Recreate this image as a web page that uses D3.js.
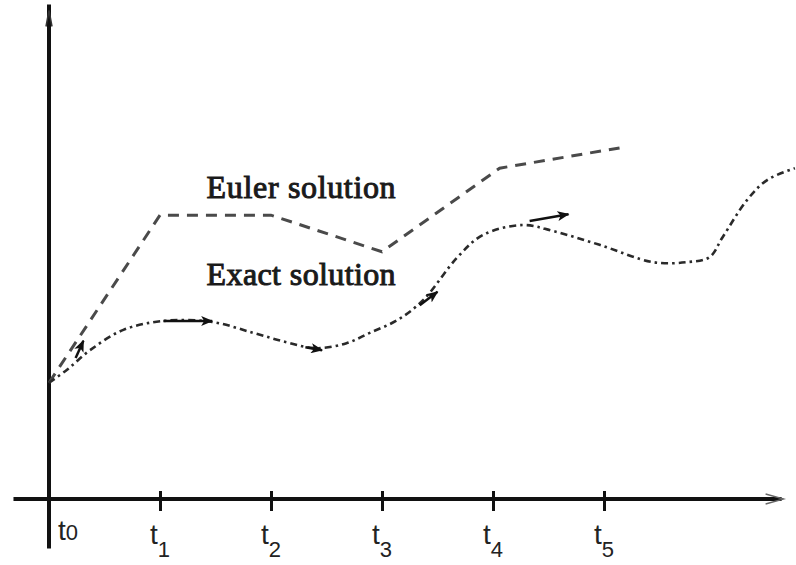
<!DOCTYPE html>
<html>
<head>
<meta charset="utf-8">
<script src="https://cdn.jsdelivr.net/npm/d3@7"></script>
<style>
  body { margin: 0; background: #fff; }
  svg { display: block; }
</style>
</head>
<body>
<div id="chart_div"></div>
<script>
// step index of each grid time t_i and its subscript
var tSteps = [0, 1, 2, 3, 4, 5];
var tLabels = ["0", "1", "2", "3", "4", "5"];

// Euler polygon (t in steps, y in arbitrary units)
var eulerT = [0, 1.0, 2.0, 3.0, 4.06, 5.14];
var eulerY = [2.35, 5.74, 5.74, 5.0, 6.69, 7.10];

// exact solution
var exactT = [0, 0.16, 0.37, 0.67, 1.03, 1.47, 1.84, 2.14, 2.41, 2.68, 2.89, 3.14, 3.37, 3.68, 3.91, 4.27, 4.54, 4.96, 5.44, 5.75, 5.95, 6.07, 6.29, 6.47, 6.72];
var exactY = [2.35, 2.61, 3.01, 3.42, 3.60, 3.58, 3.36, 3.17, 3.05, 3.15, 3.36, 3.62, 4.02, 4.89, 5.34, 5.54, 5.42, 5.14, 4.79, 4.79, 4.89, 5.30, 6.05, 6.45, 6.69];

// little slope arrows (start -> end)
var arrowT0 = [0.24, 1.03, 2.31, 3.34, 4.33];
var arrowY0 = [2.85, 3.60, 3.07, 3.92, 5.62];
var arrowT1 = [0.31, 1.47, 2.46, 3.50, 4.68];
var arrowY1 = [3.20, 3.60, 3.01, 4.19, 5.76];

var labels = ["Euler solution", "Exact solution"];
var labelT = [1.42, 1.42];
var labelY = [6.08, 4.32];

var width = 796, height = 565;

var x = d3.scaleLinear().domain([0, 5]).range([49, 604]);
var y = d3.scaleLinear().domain([0, 10]).range([499, 4.5]);

var svg = d3.select("#chart_div").append("svg")
    .attr("width", width)
    .attr("height", height);

var defs = svg.append("defs");
defs.append("marker")
    .attr("id", "head")
    .attr("viewBox", "0 0 12 10")
    .attr("refX", 11).attr("refY", 5)
    .attr("markerWidth", 12).attr("markerHeight", 10)
    .attr("markerUnits", "userSpaceOnUse")
    .attr("orient", "auto")
  .append("path")
    .attr("d", "M0,0 L12,5 L0,10 L3,5 Z")
    .attr("fill", "#111");

// axes
svg.append("line")
    .attr("x1", x(0)).attr("x2", x(0))
    .attr("y1", y(-1.0)).attr("y2", y(10))
    .attr("stroke", "#111").attr("stroke-width", 4);
svg.append("path")
    .attr("d", "M" + (x(0) - 3) + "," + (y(10) + 22) + " L" + x(0) + "," + (y(10) + 6) + " L" + (x(0) + 3) + "," + (y(10) + 22))
    .attr("fill", "none").attr("stroke", "#333").attr("stroke-width", 1.5);

var xAxis = d3.axisBottom(x)
    .tickValues(tSteps.slice(1))
    .tickSize(12)
    .tickFormat("");

var gx = svg.append("g")
    .attr("transform", "translate(0," + y(0) + ")")
    .call(xAxis);
gx.select(".domain").remove();
gx.selectAll(".tick line")
    .attr("y1", -8)
    .attr("stroke", "#111")
    .attr("stroke-width", 3);

svg.append("line")
    .attr("x1", x(-0.32)).attr("x2", x(6.6))
    .attr("y1", y(0)).attr("y2", y(0))
    .attr("stroke", "#111").attr("stroke-width", 4);
svg.append("path")
    .attr("d", "M" + (x(6.6) - 16) + "," + (y(0) - 5) + " L" + (x(6.6) + 2) + "," + y(0) + " L" + (x(6.6) - 16) + "," + (y(0) + 5))
    .attr("fill", "none").attr("stroke", "#666").attr("stroke-width", 1.3);

// tick labels t_i
var tl = svg.append("g").selectAll("text")
    .data(tSteps)
    .enter().append("text")
    .attr("x", function(d) { return d === 0 ? x(d) + 9 : x(d) - 10; })
    .attr("y", function(d) { return d === 0 ? 540 : 544; })
    .attr("font-family", "'Liberation Sans', Arial, sans-serif")
    .attr("font-size", 28)
    .attr("fill", "#222");
tl.append("tspan").text("t");
tl.append("tspan")
    .attr("font-size", 22)
    .attr("dy", function(d) { return d === 0 ? 0 : 13; })
    .text(function(d, i) { return tLabels[i]; });

var euler = eulerT.map(function(t, i) { return [t, eulerY[i]]; });
var exact = exactT.map(function(t, i) { return [t, exactY[i]]; });

var line = d3.line()
    .x(function(d) { return x(d[0]); })
    .y(function(d) { return y(d[1]); });

// Euler polygon
svg.append("path")
    .datum(euler)
    .attr("d", line)
    .attr("fill", "none")
    .attr("stroke", "#4a4a4a")
    .attr("stroke-width", 3)
    .attr("stroke-dasharray", "11,8");

// exact solution
svg.append("path")
    .datum(exact)
    .attr("d", line.curve(d3.curveCatmullRom.alpha(0.5)))
    .attr("fill", "none")
    .attr("stroke", "#2a2a2a")
    .attr("stroke-width", 2.6)
    .attr("stroke-dasharray", "7,4,2.5,4");

// slope arrows
svg.append("g").selectAll("line")
    .data(arrowT0)
    .enter().append("line")
    .attr("x1", function(d, i) { return x(arrowT0[i]); })
    .attr("y1", function(d, i) { return y(arrowY0[i]); })
    .attr("x2", function(d, i) { return x(arrowT1[i]); })
    .attr("y2", function(d, i) { return y(arrowY1[i]); })
    .attr("stroke", "#111")
    .attr("stroke-width", 2.5)
    .attr("marker-end", "url(#head)");

// labels
svg.append("g").selectAll("text")
    .data(labels)
    .enter().append("text")
    .attr("x", function(d, i) { return x(labelT[i]); })
    .attr("y", function(d, i) { return y(labelY[i]); })
    .attr("font-family", "'Liberation Serif', 'Times New Roman', serif")
    .attr("font-size", 32)
    .attr("textLength", 189)
    .attr("fill", "#1a1a1a")
    .attr("stroke", "#1a1a1a")
    .attr("stroke-width", 1)
    .text(function(d) { return d; });
</script>
</body>
</html>
